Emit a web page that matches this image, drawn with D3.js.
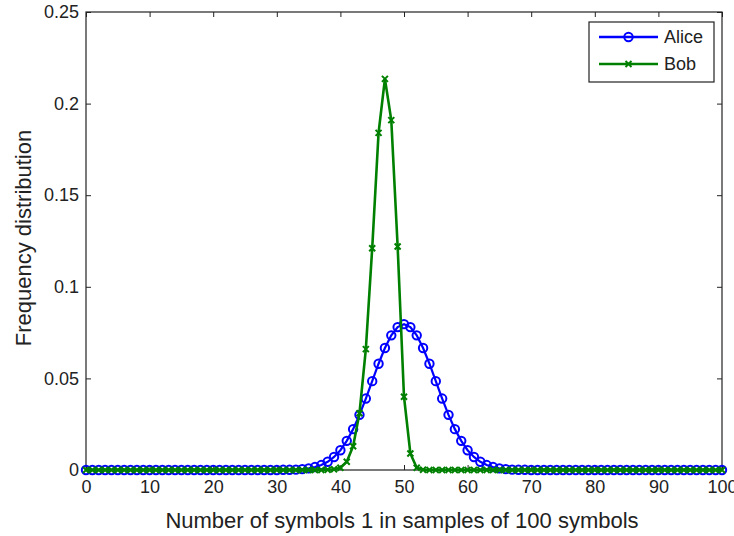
<!DOCTYPE html>
<html>
<head>
<meta charset="utf-8">
<script src="https://cdn.jsdelivr.net/npm/d3@7"></script>
<style>
  html, body { margin: 0; padding: 0; background: #fff; }
  svg { display: block; }
  text { font-family: "Liberation Sans", Arial, Helvetica, sans-serif; fill: #222; }
</style>
</head>
<body>
<svg id="chart" width="734" height="536"></svg>
<script>
// ---- data ----
const xValues = [
  0,1,2,3,4,5,6,7,8,9,
  10,11,12,13,14,15,16,17,18,19,
  20,21,22,23,24,25,26,27,28,29,
  30,31,32,33,34,35,36,37,38,39,
  40,41,42,43,44,45,46,47,48,49,
  50,51,52,53,54,55,56,57,58,59,
  60,61,62,63,64,65,66,67,68,69,
  70,71,72,73,74,75,76,77,78,79,
  80,81,82,83,84,85,86,87,88,89,
  90,91,92,93,94,95,96,97,98,99,
  100
];
const alice = [
  0,0,0,0,0,0,0,0,0,0,
  0,0,0,0,0,0,0,0,0,0,
  0,0,0,0,0,0,0,0,0,0,
  0,0.0001,0.0001,0.0002,0.0005,0.0009,0.0016,0.0027,0.0045,0.0071,
  0.0108,0.0159,0.0223,0.0301,0.0390,0.0485,0.0580,0.0666,0.0735,0.0780,
  0.0796,0.0780,0.0735,0.0666,0.0580,0.0485,0.0390,0.0301,0.0223,0.0159,
  0.0108,0.0071,0.0045,0.0027,0.0016,0.0009,0.0005,0.0002,0.0001,0.0001,
  0,0,0,0,0,0,0,0,0,0,
  0,0,0,0,0,0,0,0,0,0,
  0,0,0,0,0,0,0,0,0,0,
  0
];
const bob = [
  0,0,0,0,0,0,0,0,0,0,
  0,0,0,0,0,0,0,0,0,0,
  0,0,0,0,0,0,0,0,0,0,
  0,0,0,0,0,0,0,0,0.0001,0.0004,
  0.0012,0.0045,0.0130,0.0310,0.0660,0.1210,0.1840,0.2135,0.1910,0.1220,
  0.0400,0.0090,0.0012,0.0001,0,0,0,0,0,0,
  0,0,0,0,0,0,0,0,0,0,
  0,0,0,0,0,0,0,0,0,0,
  0,0,0,0,0,0,0,0,0,0,
  0,0,0,0,0,0,0,0,0,0,
  0
];
const seriesNames = ["Alice", "Bob"];
const seriesColors = ["#0000ff", "#008000"];
const xTicks = [0,10,20,30,40,50,60,70,80,90,100];
const yTicks = [0,0.05,0.1,0.15,0.2,0.25];
const yTickLabels = ["0","0.05","0.1","0.15","0.2","0.25"];
const xLabel = "Number of symbols 1 in samples of 100 symbols";
const yLabel = "Frequency distribution";

// ---- layout ----
const svg = d3.select("#chart");
const L = 86, R = 722, T = 12, B = 470;
const x = d3.scaleLinear().domain([0, 100]).range([L, R]);
const y = d3.scaleLinear().domain([0, 0.25]).range([B, T]);
const axisColor = "#222";

svg.append("rect").attr("width", 734).attr("height", 536).attr("fill", "#fff");

// axes with inward ticks
const gx = svg.append("g").attr("transform", `translate(0,${B})`)
  .call(d3.axisBottom(x).tickValues(xTicks).tickSizeInner(-5).tickSizeOuter(0).tickPadding(10).tickFormat(d3.format("d")));
const gxTop = svg.append("g").attr("transform", `translate(0,${T})`)
  .call(d3.axisTop(x).tickValues(xTicks).tickSizeInner(-5).tickSizeOuter(0).tickFormat(""));
const gy = svg.append("g").attr("transform", `translate(${L},0)`)
  .call(d3.axisLeft(y).tickValues(yTicks).tickSizeInner(-5).tickSizeOuter(0).tickPadding(7)
    .tickFormat((d, i) => yTickLabels[i]));
const gyR = svg.append("g").attr("transform", `translate(${R},0)`)
  .call(d3.axisRight(y).tickValues(yTicks).tickSizeInner(-5).tickSizeOuter(0).tickFormat(""));

[gx, gxTop, gy, gyR].forEach(g => {
  g.select(".domain").remove();
  g.selectAll(".tick line").attr("stroke", axisColor).attr("stroke-width", 1);
  g.selectAll(".tick text").style("font-size", "18px").attr("fill", "#222");
});
gx.selectAll(".tick text").attr("dy", "0.71em");

svg.append("rect").attr("x", L).attr("y", T).attr("width", R - L).attr("height", B - T)
  .attr("fill", "none").attr("stroke", axisColor).attr("stroke-width", 1.2);

// axis labels
svg.append("text").attr("x", (L + R) / 2 - 2).attr("y", 528).attr("text-anchor", "middle")
  .style("font-size", "22px").text(xLabel);
svg.append("text").attr("transform", `translate(31,${(T + B) / 2 - 3}) rotate(-90)`)
  .attr("text-anchor", "middle").style("font-size", "22px").text(yLabel);

// series
const plot = svg.append("g");
const dataA = xValues.map((d, i) => ({ x: d, y: alice[i] }));
const dataB = xValues.map((d, i) => ({ x: d, y: bob[i] }));
const line = d3.line().x(d => x(d.x)).y(d => y(d.y));

plot.append("path").datum(dataA).attr("d", line).attr("fill", "none")
  .attr("stroke", seriesColors[0]).attr("stroke-width", 2.2);
plot.append("g").selectAll("circle").data(dataA).join("circle")
  .attr("cx", d => x(d.x)).attr("cy", d => y(d.y)).attr("r", 4.2)
  .attr("fill", "none").attr("stroke", seriesColors[0]).attr("stroke-width", 2);

plot.append("path").datum(dataB).attr("d", line).attr("fill", "none")
  .attr("stroke", seriesColors[1]).attr("stroke-width", 2.6);
const cross = (cx, cy, s) => `M${cx - s},${cy - s}L${cx + s},${cy + s}M${cx - s},${cy + s}L${cx + s},${cy - s}`;
plot.append("g").selectAll("path").data(dataB).join("path")
  .attr("d", d => cross(x(d.x), y(d.y), 3))
  .attr("stroke", seriesColors[1]).attr("stroke-width", 2).attr("fill", "none");

// legend
const lg = svg.append("g");
lg.append("rect").attr("x", 589).attr("y", 22).attr("width", 125).attr("height", 60)
  .attr("fill", "#fff").attr("stroke", axisColor).attr("stroke-width", 1.2);
const legendRows = [37, 64];
seriesNames.forEach((name, i) => {
  const ly = legendRows[i];
  lg.append("line").attr("x1", 599).attr("x2", 658).attr("y1", ly).attr("y2", ly)
    .attr("stroke", seriesColors[i]).attr("stroke-width", 2.4);
  if (i === 0) {
    lg.append("circle").attr("cx", 628.5).attr("cy", ly).attr("r", 4.2)
      .attr("fill", "none").attr("stroke", seriesColors[i]).attr("stroke-width", 2);
  } else {
    lg.append("path").attr("d", cross(628.5, ly, 3)).attr("stroke", seriesColors[i])
      .attr("stroke-width", 2);
  }
  lg.append("text").attr("x", 664).attr("y", ly).attr("dy", "0.35em")
    .style("font-size", "18px").text(name);
});
</script>
</body>
</html>
